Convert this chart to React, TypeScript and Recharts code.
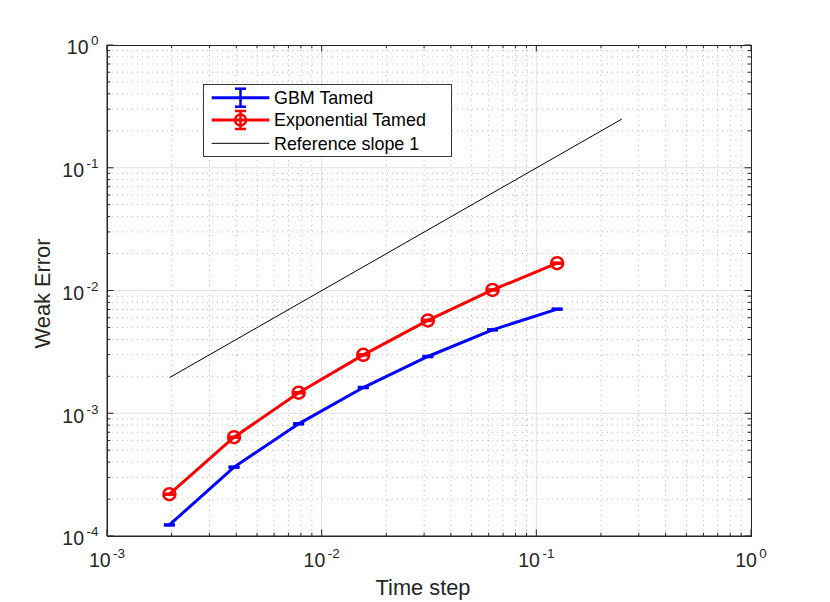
import React from "react";
import { LineChart, Line, XAxis, YAxis, ReferenceLine, ErrorBar, Legend, Label } from "recharts";

// time steps h = 2^-9 ... 2^-3
const steps = [0.001953125, 0.00390625, 0.0078125, 0.015625, 0.03125, 0.0625, 0.125];
const gbmTamed = [1.23e-4, 3.64e-4, 8.2e-4, 1.62e-3, 2.9e-3, 4.78e-3, 7.05e-3];
const gbmTamedErr = [1.2e-6, 3.5e-6, 8e-6, 1.6e-5, 2.9e-5, 4.8e-5, 7e-5];
const expTamed = [2.19e-4, 6.38e-4, 1.47e-3, 2.99e-3, 5.7e-3, 1.01e-2, 1.67e-2];
const expTamedErr = [2e-6, 6e-6, 1.4e-5, 3e-5, 5.5e-5, 1e-4, 1.6e-4];
const refSteps = [0.001953125, 0.25];
const refSlope = [0.00195, 0.249];

const xMajor = [1e-3, 1e-2, 1e-1, 1];
const yMajor = [1e-4, 1e-3, 1e-2, 1e-1, 1];
const minorSteps = [2, 3, 4, 5, 6, 7, 8, 9];

const minorOf = (majors: number[]) =>
  majors.slice(0, -1).flatMap((d) => minorSteps.map((m) => m * d));

const xMinor = minorOf(xMajor);
const yMinor = minorOf(yMajor);
const xTicks = [...xMajor, ...xMinor].sort((a, b) => a - b);
const yTicks = [...yMajor, ...yMinor].sort((a, b) => a - b);

const gbmData = steps.map((h, i) => ({ h, v: gbmTamed[i], e: gbmTamedErr[i] }));
const expData = steps.map((h, i) => ({ h, v: expTamed[i], e: expTamedErr[i] }));
const refData = refSteps.map((h, i) => ({ h, v: refSlope[i] }));

const W = 830;
const H = 602;
// plot box, MATLAB-style
const PLOT_TOP = 45;
const PLOT_LEFT = 107;
const PLOT_RIGHT = 751;
const PLOT_BOTTOM = 536;

const AXIS = "#262626";
const FONT = "'Liberation Sans', Arial, Helvetica, sans-serif";
const BLUE = "#0000ff";
const RED = "#ff0000";

const isMajor = (v: number) => Math.abs(Math.log10(v) - Math.round(Math.log10(v))) < 1e-9;
const expOf = (v: number) => Math.round(Math.log10(v));

const MAJOR_LEN = 6.5;
const MINOR_LEN = 3.3;
const EDGE = 1;

function PowerLabel({ x, y, exp, anchor }: { x: number; y: number; exp: number; anchor: "middle" | "end" }) {
  return (
    <text x={x} y={y} textAnchor={anchor} fontFamily={FONT} fontSize={19.5} fill={AXIS}>
      <tspan>10</tspan>
      <tspan dx={2.5} dy={-9} fontSize={13.5}>
        {String(exp)}
      </tspan>
    </text>
  );
}

// bottom ticks plus the mirrored ticks on the top edge
function BottomTick(props: any) {
  const { x, y, payload } = props;
  const major = isMajor(payload.value);
  const len = major ? MAJOR_LEN : MINOR_LEN;
  return (
    <g>
      <line x1={x} x2={x} y1={y} y2={y - len} stroke={AXIS} strokeWidth={EDGE} />
      <line x1={x} x2={x} y1={PLOT_TOP} y2={PLOT_TOP + len} stroke={AXIS} strokeWidth={EDGE} />
      {major && <PowerLabel x={x} y={y + 31} exp={expOf(payload.value)} anchor="middle" />}
    </g>
  );
}

// left ticks plus the mirrored ticks on the right edge
function LeftTick(props: any) {
  const { x, y, payload } = props;
  const major = isMajor(payload.value);
  const len = major ? MAJOR_LEN : MINOR_LEN;
  return (
    <g>
      <line x1={x} x2={x + len} y1={y} y2={y} stroke={AXIS} strokeWidth={EDGE} />
      <line x1={PLOT_RIGHT} x2={PLOT_RIGHT - len} y1={y} y2={y} stroke={AXIS} strokeWidth={EDGE} />
      {major && <PowerLabel x={x - 8.5} y={y + 9.3} exp={expOf(payload.value)} anchor="end" />}
    </g>
  );
}

function XTitle(props: any) {
  const vb = props.viewBox;
  return (
    <text x={vb.x + vb.width / 2 - 6} y={vb.y + 59} textAnchor="middle" fontFamily={FONT} fontSize={21.8} fill={AXIS}>
      Time step
    </text>
  );
}

function YTitle(props: any) {
  const vb = props.viewBox;
  const cx = vb.x + 49.5;
  const cy = vb.y + vb.height / 2 + 3;
  return (
    <text
      x={cx}
      y={cy}
      transform={`rotate(-90 ${cx} ${cy})`}
      textAnchor="middle"
      fontFamily={FONT}
      fontSize={21.8}
      fill={AXIS}
    >
      Weak Error
    </text>
  );
}

function LegendBox() {
  const rows = [13.7, 36, 59.3];
  const x0 = 8.7;
  const x1 = 66.3;
  const mid = 37.5;
  const textX = 71;
  const txt = { fontFamily: FONT, fontSize: 17.9, fill: "#000" };
  const bar = (cy: number, color: string) => (
    <g stroke={color} strokeWidth={2.5}>
      <line x1={mid} x2={mid} y1={cy - 9} y2={cy + 9} />
      <line x1={mid - 5.5} x2={mid + 5.5} y1={cy - 9} y2={cy - 9} />
      <line x1={mid - 5.5} x2={mid + 5.5} y1={cy + 9} y2={cy + 9} />
    </g>
  );
  return (
    <svg width={250} height={74} style={{ display: "block" }}>
      <rect x={0.5} y={0.5} width={248} height={72} fill="#fff" stroke={AXIS} strokeWidth={0.9} />
      <line x1={x0} x2={x1} y1={rows[0]} y2={rows[0]} stroke={BLUE} strokeWidth={3} />
      {bar(rows[0], BLUE)}
      <text x={textX} y={rows[0] + 6.4} {...txt}>GBM Tamed</text>
      <line x1={x0} x2={x1} y1={rows[1]} y2={rows[1]} stroke={RED} strokeWidth={3} />
      {bar(rows[1], RED)}
      <circle cx={mid} cy={rows[1]} r={5.5} fill="none" stroke={RED} strokeWidth={2.5} />
      <text x={textX} y={rows[1] + 6.4} {...txt}>Exponential Tamed</text>
      <line x1={x0} x2={x1} y1={rows[2]} y2={rows[2]} stroke="#000" strokeWidth={1} />
      <text x={textX} y={rows[2] + 6.4} {...txt}>Reference slope 1</text>
    </svg>
  );
}

export default function App() {
  return (
    <div style={{ position: "absolute", left: 0, top: 0, width: W, height: H, background: "#fff" }}>
      <LineChart width={W} height={H} margin={{ top: PLOT_TOP, right: W - PLOT_RIGHT, bottom: 0, left: 0 }}>
        <XAxis
          dataKey="h"
          type="number"
          scale="log"
          domain={[1e-3, 1]}
          allowDataOverflow
          ticks={xTicks}
          interval={0}
          height={H - PLOT_BOTTOM}
          tickSize={0}
          tickMargin={0}
          tickLine={false}
          tick={<BottomTick />}
          axisLine={{ stroke: AXIS, strokeWidth: EDGE }}
        >
          <Label content={<XTitle />} />
        </XAxis>
        <YAxis
          type="number"
          scale="log"
          domain={[1e-4, 1]}
          allowDataOverflow
          ticks={yTicks}
          interval={0}
          width={PLOT_LEFT}
          tickSize={0}
          tickMargin={0}
          tickLine={false}
          tick={<LeftTick />}
          axisLine={{ stroke: AXIS, strokeWidth: EDGE }}
        >
          <Label content={<YTitle />} />
        </YAxis>

        {xMinor.map((v) => (
          <ReferenceLine key={`xm${v}`} x={v} stroke="#bdbdbd" strokeWidth={0.9} strokeDasharray="1 4" />
        ))}
        {yMinor.map((v) => (
          <ReferenceLine key={`ym${v}`} y={v} stroke="#bdbdbd" strokeWidth={0.9} strokeDasharray="1 4" />
        ))}
        {xMajor.slice(1, -1).map((v) => (
          <ReferenceLine key={`xM${v}`} x={v} stroke="#e0e0e0" strokeWidth={1} />
        ))}
        {yMajor.slice(1, -1).map((v) => (
          <ReferenceLine key={`yM${v}`} y={v} stroke="#e0e0e0" strokeWidth={1} />
        ))}

        <Line
          data={gbmData}
          dataKey="v"
          name="GBM Tamed"
          stroke={BLUE}
          strokeWidth={3}
          dot={false}
          isAnimationActive={false}
        >
          <ErrorBar dataKey="e" direction="y" width={5.5} stroke={BLUE} strokeWidth={2.5} isAnimationActive={false} />
        </Line>
        <Line
          data={expData}
          dataKey="v"
          name="Exponential Tamed"
          stroke={RED}
          strokeWidth={3}
          dot={{ r: 6, stroke: RED, strokeWidth: 2.5, fill: "none" }}
          isAnimationActive={false}
        >
          <ErrorBar dataKey="e" direction="y" width={5.5} stroke={RED} strokeWidth={2.5} isAnimationActive={false} />
        </Line>
        <Line
          data={refData}
          dataKey="v"
          name="Reference slope 1"
          stroke="#000"
          strokeWidth={1}
          dot={false}
          isAnimationActive={false}
        />

        <Legend
          layout="vertical"
          align="center"
          verticalAlign="middle"
          content={<LegendBox />}
          wrapperStyle={{ left: 203, top: 84, width: 250, height: 74 }}
        />
      </LineChart>
      {/* axes box frame (MATLAB "box on") */}
      <div
        style={{
          position: "absolute",
          left: PLOT_LEFT - 0.5,
          top: PLOT_TOP - 0.5,
          width: PLOT_RIGHT - PLOT_LEFT - 1,
          height: PLOT_BOTTOM - PLOT_TOP - 1,
          border: `1px solid ${AXIS}`,
          pointerEvents: "none",
        }}
      />
    </div>
  );
}
